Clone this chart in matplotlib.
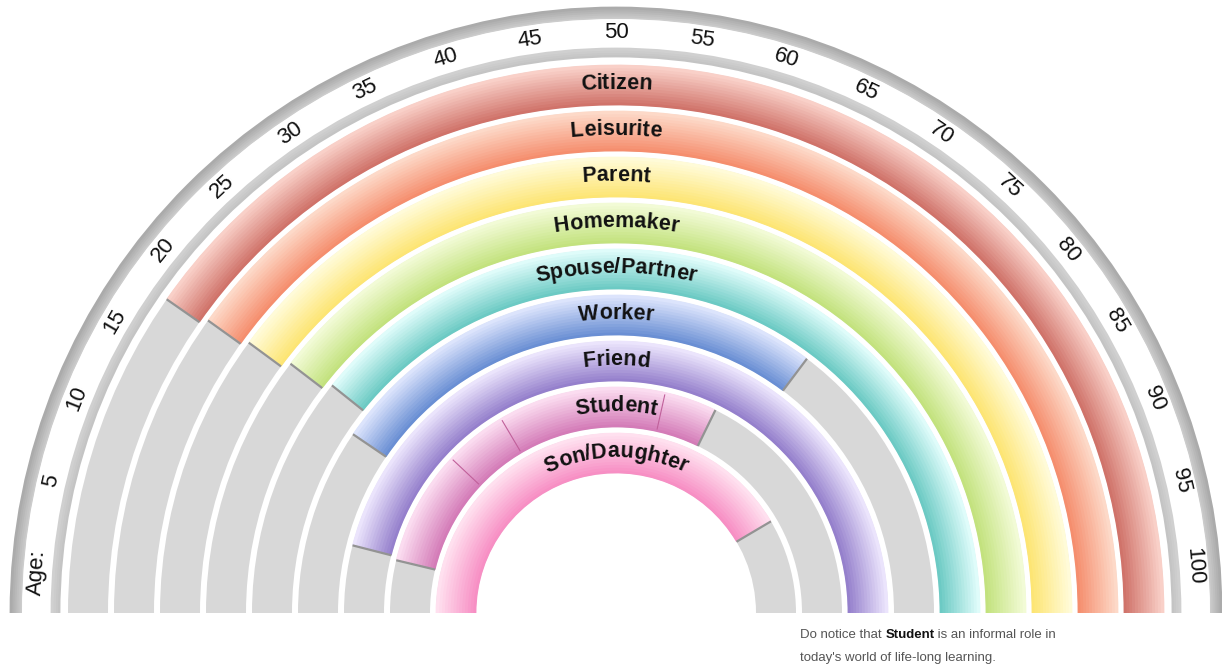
import numpy as np
import matplotlib
matplotlib.use("Agg")
import matplotlib.pyplot as plt
from matplotlib.patches import Wedge
from matplotlib.colors import to_rgb

# roles from the inner ring outwards, ages where the coloured part starts / ends
roles = ["Son/Daughter", "Student", "Friend", "Worker", "Spouse/Partner",
         "Homemaker", "Parent", "Leisurite", "Citizen"]
role_start = [0, 7.5, 8, 19, 21.5, 20.8, 20.2, 19.8, 19.4]
role_end = [83, 64.5, 100, 70.5, 100, 100, 100, 100, 100]
student_breaks = [24, 33, 57]

# inner edge colour -> outer edge colour of every band
inner_colors = ["#f78fc4", "#d47cb8", "#9580cc", "#6a8fd4", "#6ccac4",
                "#c3e27e", "#fde574", "#f58e6e", "#d0736a"]
outer_colors = ["#ffe0ef", "#fbdcf0", "#ebe4fc", "#dce4fc", "#dffcfa",
                "#f2fbd6", "#fffbd8", "#fdd9c8", "#f9d0c8"]

tick_ages = list(range(5, 101, 5))
note_lines = ["Do notice that ", "Student", " is an informal role in",
              "today's world of life-long learning."]

GRAY = "#d8d8d8"
R0, PITCH, BW = 140, 46, 40


def age_to_deg(a):
    return 180 - 1.8 * a


def label_deg(a):
    # the printed age numbers sit a bit inside the ends of the arc
    return 180 - (4.6 + 1.708 * a)


fig = plt.figure(figsize=(12.22, 6.66), dpi=100)
ax = fig.add_axes([0, 0, 1, 1])
ax.set_xlim(-616, 606)
ax.set_ylim(-53, 613)
ax.axis("off")
renderer = fig.canvas.get_renderer()


def gradient_segment(r_in, r_out, a0, a1, c_in, c_out, n=14):
    c_in, c_out = np.array(to_rgb(c_in)), np.array(to_rgb(c_out))
    edges = np.linspace(r_in, r_out, n + 1)
    for k in range(n):
        f = k / (n - 1)
        col = c_in * (1 - f) + c_out * f
        ax.add_patch(Wedge((0, 0), edges[k + 1] + 0.4, age_to_deg(a1), age_to_deg(a0),
                           width=edges[k + 1] - edges[k] + 0.8, facecolor=col,
                           edgecolor="none"))


def radial_line(a, r_in, r_out, color="#939393", lw=1.6):
    t = np.radians(age_to_deg(a))
    ax.plot([r_in * np.cos(t), r_out * np.cos(t)], [r_in * np.sin(t), r_out * np.sin(t)],
            color=color, lw=lw, solid_capstyle="butt")


def text_width(s, **kw):
    t = ax.text(0, 0, s, **kw)
    w = t.get_window_extent(renderer=renderer).width
    t.remove()
    return w


def arc_text(s, r, size, weight="bold"):
    kw = dict(fontsize=size, fontweight=weight, family="Liberation Sans")
    total = text_width(s, **kw)
    prev = 0.0
    for i, ch in enumerate(s):
        cur = text_width(s[:i + 1], **kw)
        mid = (prev + cur) / 2
        prev = cur
        th = 90 + np.degrees((total / 2 - mid) / r)
        tr = np.radians(th)
        ax.text(r * np.cos(tr), r * np.sin(tr), ch, rotation=th - 90,
                rotation_mode="anchor", ha="center", va="baseline", color="#111111", **kw)


# age scale ring
gradient_segment(594, 606, 0, 100, "#cccccc", "#ababab", n=6)
ax.add_patch(Wedge((0, 0), 594, 0, 180, width=29, facecolor="white", edgecolor="none"))
gradient_segment(556, 565, 0, 100, "#c4c4c4", "#d0d0d0", n=4)

for a in tick_ages:
    th = label_deg(a)
    t = np.radians(th)
    ax.text(580 * np.cos(t), 580 * np.sin(t), str(a), rotation=th - 90,
            rotation_mode="anchor", ha="center", va="center", fontsize=16,
            family="Liberation Sans", color="#111111")
th = 176.0
ax.text(580 * np.cos(np.radians(th)), 580 * np.sin(np.radians(th)), "Age:",
        rotation=th - 90, rotation_mode="anchor", ha="center", va="center",
        fontsize=16, family="Liberation Sans", color="#111111")

# role bands
for i, role in enumerate(roles):
    r_in = R0 + i * PITCH
    r_out = r_in + BW
    ax.add_patch(Wedge((0, 0), r_out, 0, 180, width=BW, facecolor=GRAY, edgecolor="none"))
    gradient_segment(r_in, r_out, role_start[i], role_end[i], inner_colors[i], outer_colors[i])
    for a in (role_start[i], role_end[i]):
        if 0 < a < 100:
            radial_line(a, r_in, r_out)
    if role == "Student":
        for a in student_breaks:
            radial_line(a, r_in + 2, r_out - 2, color="#c0609a", lw=0.8)
    arc_text(role, (r_in + r_out) / 2 - 4, 15.5)

# footnote
fkw = dict(fontsize=9.5, family="Liberation Sans", color="#555555", va="baseline")
x0, y0 = 800 - 616, 613 - 638
ax.text(x0, y0, note_lines[0], **fkw)
w0 = text_width(note_lines[0], fontsize=9.5, family="Liberation Sans")
ax.text(x0 + w0, y0, note_lines[1], fontweight="bold", **{**fkw, "color": "#111111"})
w1 = text_width(note_lines[1], fontsize=9.5, family="Liberation Sans", fontweight="bold")
ax.text(x0 + w0 + w1, y0, note_lines[2], **fkw)
ax.text(x0, y0 - 23, note_lines[3], **fkw)

fig.savefig("out.png", dpi=100)
